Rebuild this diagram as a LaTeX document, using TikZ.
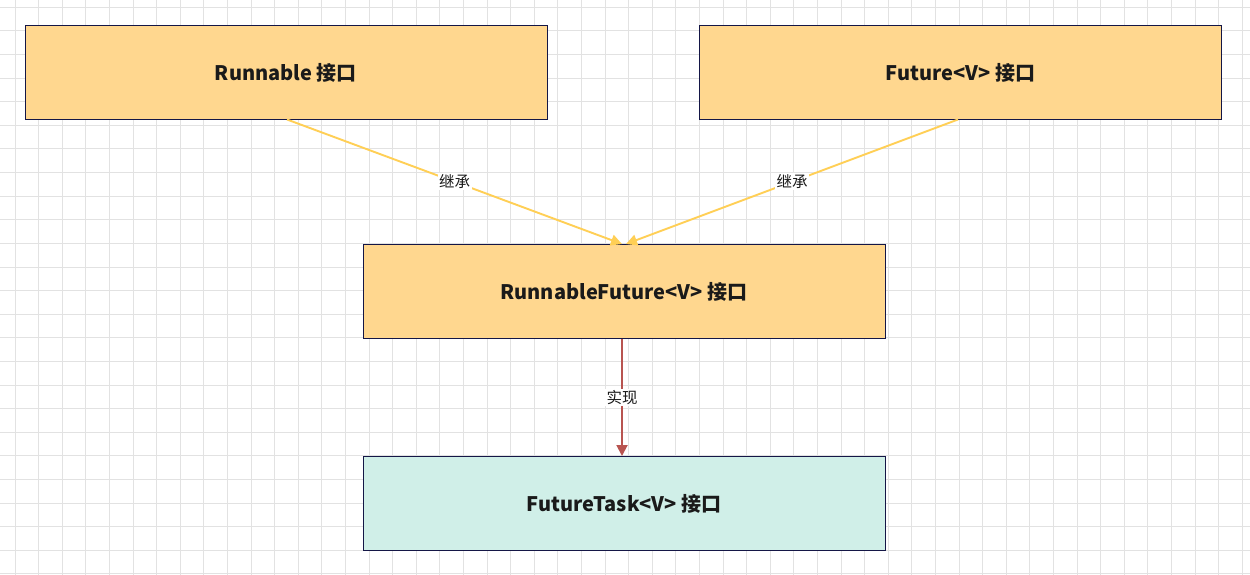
\documentclass[tikz,border=0pt]{standalone}
\usepackage{fontspec}
\setmainfont{Noto Sans CJK SC}
\usetikzlibrary{arrows.meta}
\definecolor{boxfill}{HTML}{FFD78F}
\definecolor{tealfill}{HTML}{D0EFE8}
\definecolor{navy}{HTML}{141646}
\definecolor{yarrow}{HTML}{FFCF55}
\definecolor{rarrow}{HTML}{B85450}
\definecolor{gridc}{HTML}{E2E2E2}
\definecolor{txt}{HTML}{1A1A1A}
\begin{document}
\begin{tikzpicture}[x=1pt,y=-1pt,
  box/.style={draw=navy,line width=0.9pt,minimum width=522pt,minimum height=94pt,inner sep=0pt,anchor=north west,text=txt,font=\fontsize{20}{24}\selectfont\bfseries},
  lbl/.style={fill=white,inner sep=1.5pt,text=txt,font=\fontsize{15.5}{18}\selectfont},
  yarr/.style={draw=yarrow,line width=1.9pt,-{Triangle[length=11pt,width=11pt]}},
  rarr/.style={draw=rarrow,line width=1.9pt,-{Triangle[length=11pt,width=11pt]}}]
\useasboundingbox (0,0) rectangle (1250,575);
\fill[white] (0,0) rectangle (1250,575);
\foreach \i in {0,...,52} {\draw[gridc,line width=0.8pt] ({15+23.6*\i},0) -- ({15+23.6*\i},575);}
\foreach \i in {0,...,24} {\draw[gridc,line width=0.8pt] (0,{7.3+23.6*\i}) -- (1250,{7.3+23.6*\i});}
\node[box,fill=boxfill] (run) at (24.5,25.5) {Runnable 接口};
\node[box,fill=boxfill] (fut) at (699,25.5) {Future<V> 接口};
\node[box,fill=boxfill] (rf) at (362.5,244) {RunnableFuture<V> 接口};
\node[box,fill=tealfill] (ft) at (362.5,456) {FutureTask<V> 接口};
\coordinate (a1) at (287,119.5);
\coordinate (a2) at (958,119.5);
\coordinate (t1) at (622,244);
\coordinate (t2) at (626,244);
\draw[yarr] (a1) -- node[lbl,pos=0.5] (l1) {继承} (t1);
\draw[yarr] (a2) -- node[lbl,pos=0.5] (l2) {继承} (t2);
\draw[rarr] (rf.south -| t1) -- node[lbl] (l3) {实现} (ft.north -| t1);
\end{tikzpicture}
\end{document}
